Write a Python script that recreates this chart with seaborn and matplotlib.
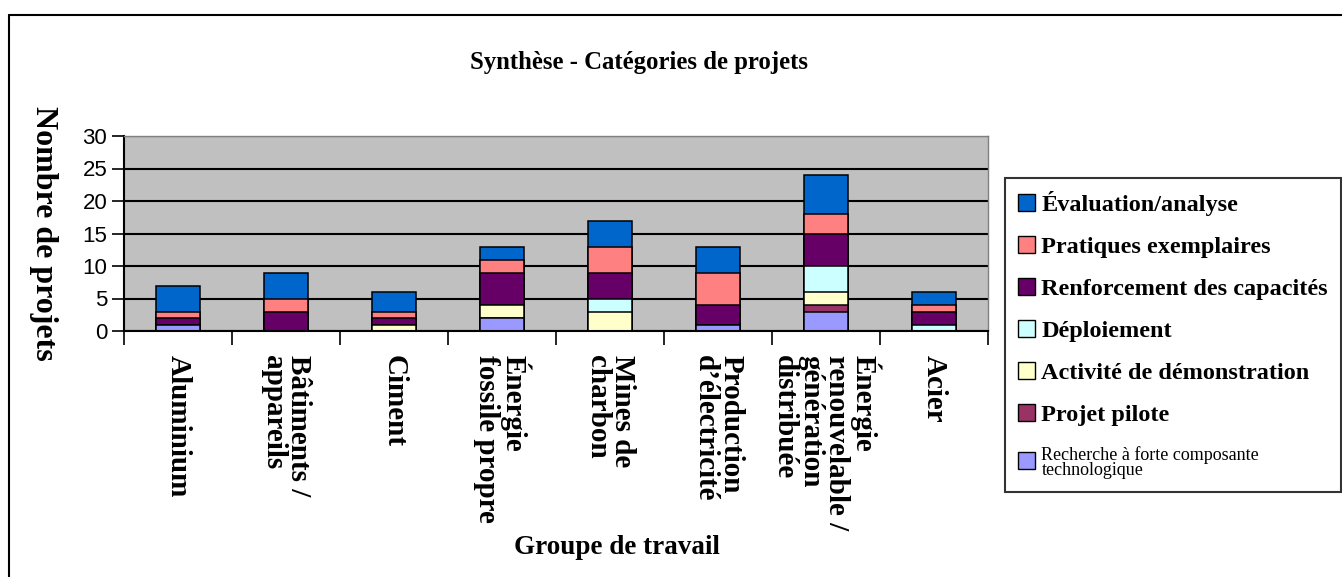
import matplotlib
matplotlib.use("Agg")
import matplotlib.pyplot as plt
import matplotlib.patches as mpatches
from matplotlib.lines import Line2D
import numpy as np
import pandas as pd
import seaborn as sns

# Groupes de travail (axe x)
groupes = ["Aluminium", "Bâtiments /\nappareils", "Ciment", "Énergie\nfossile propre",
           "Mines de\ncharbon", "Production\nd’électricité",
           "Énergie\nrenouvelable /\ngénération\ndistribuée", "Acier"]

# Catégories, du bas de la pile vers le haut
categories = ["Recherche à forte composante\ntechnologique", "Projet pilote",
              "Activité de démonstration", "Déploiement", "Renforcement des capacités",
              "Pratiques exemplaires", "Évaluation/analyse"]

recherche = [1, 0, 0, 2, 0, 1, 3, 0]
pilote = [0, 0, 0, 0, 0, 0, 1, 0]
demonstration = [0, 0, 1, 2, 3, 0, 2, 0]
deploiement = [0, 0, 0, 0, 2, 0, 4, 1]
renforcement = [1, 3, 1, 5, 4, 3, 5, 2]
pratiques = [1, 2, 1, 2, 4, 5, 3, 1]
evaluation = [4, 4, 3, 2, 4, 4, 6, 2]

couleurs = ["#9999FF", "#993366", "#FFFFCC", "#CCFFFF", "#660066", "#FF8080", "#0066CC"]

df = pd.DataFrame(dict(zip(categories, [recherche, pilote, demonstration, deploiement,
                                        renforcement, pratiques, evaluation])),
                  index=groupes)
cumul = df.cumsum(axis=1)

sns.set_theme(style="white")
plt.rcParams["font.family"] = ["Liberation Serif", "DejaVu Serif"]
plt.rcParams["text.color"] = "black"
plt.rcParams["xtick.color"] = "black"
plt.rcParams["ytick.color"] = "black"

fig = plt.figure(figsize=(13.42, 5.77), dpi=100)
ax = fig.add_axes([124 / 1342, 246 / 577, 864 / 1342, 195 / 577])
ax.set_facecolor("#C0C0C0")
ax.set_axisbelow(True)

# piles : on dessine du total vers le bas, chaque couche recouvre la précédente
for cat, col in reversed(list(zip(categories, couleurs))):
    sns.barplot(x=cumul.index, y=cumul[cat].values, order=groupes, color=col,
                saturation=1, width=0.4, edgecolor="black", linewidth=1.1,
                errorbar=None, ax=ax)

ax.set_xlim(-0.5, len(groupes) - 0.5)
ax.set_ylim(0, 30)
ax.set_yticks(range(0, 31, 5))
ax.set_yticklabels([str(v) for v in range(0, 31, 5)], family="Liberation Sans", fontsize=16)
ax.set_xticks(range(len(groupes)))
ax.set_xticklabels(groupes, rotation=270, ha="center", va="top", ma="left",
                   fontweight="bold", fontsize=21, linespacing=0.95)
ax.set_xticks(np.arange(-0.5, len(groupes), 1), minor=True)
ax.tick_params(axis="x", which="major", length=0, pad=17)
ax.tick_params(axis="x", which="minor", length=10, width=1.2, color="black", direction="out",
               bottom=True)
ax.tick_params(axis="y", length=9, width=1.2, color="black", direction="out", left=True, pad=3)
ax.set_xlabel("")
ax.set_ylabel("")

ax.yaxis.grid(True, color="black", linewidth=1.5)
ax.xaxis.grid(False)
for s in ["left", "bottom"]:
    ax.spines[s].set_color("black")
    ax.spines[s].set_linewidth(1.5)
for s in ["top", "right"]:
    ax.spines[s].set_color("#808080")
    ax.spines[s].set_linewidth(1)

fig.text(639 / 1342, 1 - 62 / 577, "Synthèse - Catégories de projets", ha="center", va="center",
         fontsize=17.8, fontweight="bold")
fig.text(43 / 1342, 1 - 233 / 577, "Nombre de projets", rotation=270, ha="center", va="center",
         fontsize=23, fontweight="bold")
fig.text(617 / 1342, 1 - 548 / 577, "Groupe de travail", ha="center", va="center",
         fontsize=19.5, fontweight="bold")

# cadre du graphique
fig.add_artist(Line2D([9 / 1342, 1], [1 - 15 / 577] * 2, color="black", lw=1.5,
                      transform=fig.transFigure))
fig.add_artist(Line2D([9 / 1342] * 2, [0, 1 - 15 / 577], color="black", lw=1.5,
                      transform=fig.transFigure))

handles = [mpatches.Patch(facecolor=c, edgecolor="black", linewidth=1)
           for c in reversed(couleurs)]
leg = fig.legend(handles, list(reversed(categories)), loc="upper left",
                 bbox_to_anchor=(1005 / 1342, 1 - 178 / 577), bbox_transform=fig.transFigure,
                 frameon=True, fancybox=False, edgecolor="black",
                 prop=dict(family="Liberation Serif", weight="bold", size=17.5),
                 handlelength=0.7, handleheight=0.7, handletextpad=0.25,
                 labelspacing=0.82, borderpad=0.55, borderaxespad=0)
leg.get_frame().set_linewidth(1.5)
last = leg.get_texts()[-1]
last.set_fontsize(13)
last.set_fontweight("normal")
last.set_linespacing(0.85)

fig.savefig("out.png", dpi=100)
